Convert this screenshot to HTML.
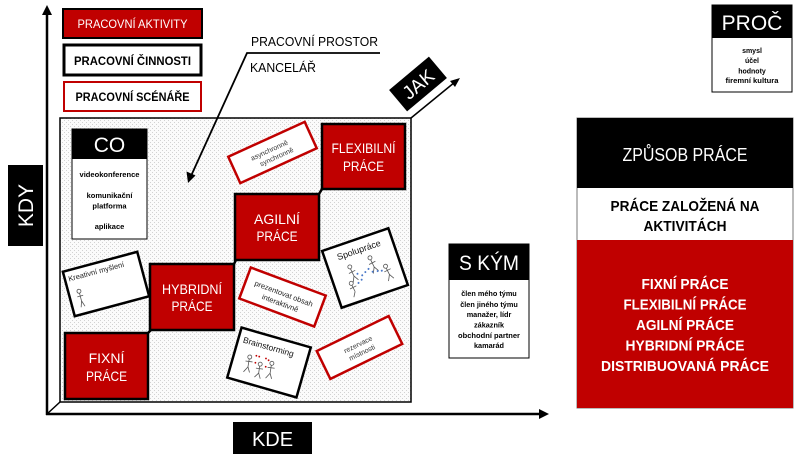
<!DOCTYPE html>
<html>
<head>
<meta charset="utf-8">
<style>
  html,body{margin:0;padding:0;background:#fff;}
  svg{display:block;}
  text{font-family:"Liberation Sans", "DejaVu Sans", sans-serif;}
</style>
</head>
<body>
<svg width="800" height="457" viewBox="0 0 800 457" xmlns="http://www.w3.org/2000/svg">
  <defs>
    <pattern id="dots" width="4" height="4" patternUnits="userSpaceOnUse">
      <rect width="4" height="4" fill="#fbfbfb"/>
      <rect x="0" y="0" width="1" height="1" fill="#d2d2d2"/>
      <rect x="2" y="2" width="1" height="1" fill="#d2d2d2"/>
    </pattern>
  </defs>

  <!-- Stippled work area -->
  <rect x="60" y="118" width="351" height="284" fill="url(#dots)" stroke="#000" stroke-width="1.5"/>
  <!-- 3D corner lines -->
  <line x1="47" y1="414" x2="60" y2="402" stroke="#000" stroke-width="1.5"/>
  <line x1="411" y1="118" x2="455" y2="82" stroke="#000" stroke-width="1.5"/>
  <polygon points="460,78 450,81 455,87" fill="#000"/>

  <!-- Axes -->
  <line x1="47" y1="415" x2="47" y2="13" stroke="#000" stroke-width="2.5"/>
  <polygon points="47,5 42,15 52,15" fill="#000"/>
  <line x1="46" y1="414" x2="541" y2="414" stroke="#000" stroke-width="2.5"/>
  <polygon points="549,414 539,409 539,419" fill="#000"/>

  <!-- KDY -->
  <rect x="8" y="165" width="35" height="81" fill="#000"/>
  <text x="0" y="0" transform="translate(33,205.5) rotate(-90)" text-anchor="middle" fill="#fff" font-size="21">KDY</text>

  <!-- KDE -->
  <rect x="233" y="422" width="79" height="32" fill="#000"/>
  <text x="272.5" y="446" text-anchor="middle" fill="#fff" font-size="20">KDE</text>

  <!-- JAK -->
  <g transform="translate(418,84) rotate(-40)">
    <rect x="-26" y="-14" width="52" height="28" fill="#000"/>
    <text x="0" y="7" text-anchor="middle" fill="#fff" font-size="19">JAK</text>
  </g>

  <!-- Legend -->
  <rect x="63" y="9" width="139" height="29" fill="#c00000" stroke="#000" stroke-width="2"/>
  <text x="132.5" y="28" text-anchor="middle" fill="#fff" font-size="11.5" textLength="110" lengthAdjust="spacingAndGlyphs">PRACOVNÍ AKTIVITY</text>
  <rect x="64" y="45" width="137" height="30" fill="#fff" stroke="#000" stroke-width="3"/>
  <text x="132.5" y="65" text-anchor="middle" fill="#000" font-size="12" font-weight="bold" textLength="117" lengthAdjust="spacingAndGlyphs">PRACOVNÍ ČINNOSTI</text>
  <rect x="64" y="82" width="137" height="29" fill="#fff" stroke="#c00000" stroke-width="2"/>
  <text x="132.5" y="101" text-anchor="middle" fill="#000" font-size="12" font-weight="bold" textLength="114" lengthAdjust="spacingAndGlyphs">PRACOVNÍ SCÉNÁŘE</text>

  <!-- Pracovní prostor -->
  <text x="251" y="46" fill="#000" font-size="13" textLength="127" lengthAdjust="spacingAndGlyphs">PRACOVNÍ PROSTOR</text>
  <text x="250" y="72" fill="#000" font-size="13" textLength="66" lengthAdjust="spacingAndGlyphs">KANCELÁŘ</text>
  <polyline points="380,53 247,53 191,176" fill="none" stroke="#000" stroke-width="1.8"/>
  <polygon points="188,183 186.5,171.5 195.5,175.5" fill="#000"/>

  <!-- CO -->
  <rect x="72" y="129" width="75" height="110" fill="#fff" stroke="#000" stroke-width="1"/>
  <rect x="72" y="129" width="75" height="30" fill="#000"/>
  <text x="109.5" y="152" text-anchor="middle" fill="#fff" font-size="21">CO</text>
  <g font-size="7.5" font-weight="bold" fill="#000" text-anchor="middle">
    <text x="109.5" y="177" textLength="60" lengthAdjust="spacingAndGlyphs">videokonference</text>
    <text x="109.5" y="198">komunikační</text>
    <text x="109.5" y="208.5">platforma</text>
    <text x="109.5" y="229">aplikace</text>
  </g>

  <!-- Red work boxes -->
  <g stroke="#000" stroke-width="2.5">
    <line x1="148" y1="333" x2="151" y2="330"/>
    <line x1="234" y1="264" x2="236" y2="260"/>
    <line x1="319" y1="194" x2="322" y2="189"/>
  </g>
  <rect x="65" y="333" width="83" height="66" fill="#c00000" stroke="#000" stroke-width="2.5"/>
  <rect x="150" y="264" width="84" height="66" fill="#c00000" stroke="#000" stroke-width="2.5"/>
  <rect x="235" y="194" width="84" height="66" fill="#c00000" stroke="#000" stroke-width="2.5"/>
  <rect x="322" y="124" width="83" height="65" fill="#c00000" stroke="#000" stroke-width="2.5"/>
  <g fill="#fff" font-size="14" text-anchor="middle">
    <text x="106.5" y="363">FIXNÍ</text>
    <text x="106.5" y="381" textLength="41" lengthAdjust="spacingAndGlyphs">PRÁCE</text>
    <text x="192" y="294" textLength="60" lengthAdjust="spacingAndGlyphs">HYBRIDNÍ</text>
    <text x="192" y="311" textLength="41" lengthAdjust="spacingAndGlyphs">PRÁCE</text>
    <text x="277" y="224">AGILNÍ</text>
    <text x="277" y="241" textLength="41" lengthAdjust="spacingAndGlyphs">PRÁCE</text>
    <text x="363.5" y="153" textLength="64" lengthAdjust="spacingAndGlyphs">FLEXIBILNÍ</text>
    <text x="363.5" y="171" textLength="41" lengthAdjust="spacingAndGlyphs">PRÁCE</text>
  </g>

  <!-- Kreativní myšlení card -->
  <g transform="translate(106,284) rotate(-15)">
    <rect x="-38.5" y="-23" width="77" height="46" fill="#fff" stroke="#000" stroke-width="2.5"/>
    <text x="-35" y="-12" font-size="7.5" fill="#222">Kreativní myšlení</text>
    <g stroke="#555" stroke-width="0.8" fill="none">
      <circle cx="-28" cy="0" r="2"/>
      <line x1="-28" y1="2" x2="-28" y2="10"/>
      <line x1="-31" y1="5" x2="-25" y2="5"/>
      <line x1="-28" y1="10" x2="-30" y2="16"/>
      <line x1="-28" y1="10" x2="-26" y2="16"/>
    </g>
  </g>

  <!-- asynchronně card -->
  <g transform="translate(272.5,152.5) rotate(-24.5)">
    <rect x="-42" y="-14.5" width="84" height="29" fill="#fff" stroke="#c00000" stroke-width="2.5"/>
    <text x="-2" y="-1" text-anchor="middle" font-size="7" fill="#333">asynchronně</text>
    <text x="2" y="8" text-anchor="middle" font-size="7" fill="#333">synchronně</text>
  </g>

  <!-- prezentovat card -->
  <g transform="translate(282.5,297) rotate(20.5)">
    <rect x="-40" y="-16.5" width="80" height="33" fill="#fff" stroke="#c00000" stroke-width="2.5"/>
    <text x="0" y="-1" text-anchor="middle" font-size="7.5" fill="#222">prezentovat obsah</text>
    <text x="0" y="9" text-anchor="middle" font-size="7.5" fill="#222">interaktivně</text>
  </g>

  <!-- Spolupráce card -->
  <g transform="translate(365,268) rotate(-19)">
    <rect x="-35" y="-30" width="70" height="60" fill="#fff" stroke="#000" stroke-width="2.5"/>
    <text x="0" y="-16" text-anchor="middle" font-size="9" fill="#111">Spolupráce</text>
    <g stroke="#555" stroke-width="0.8" fill="none">
      <circle cx="-14" cy="-6" r="2"/><path d="M-14,-4 L-13,4 M-17,0 L-10,-1 M-13,4 L-16,10 M-13,4 L-10,9"/>
      <circle cx="8" cy="-8" r="2"/><path d="M8,-6 L9,2 M5,-2 L12,-3 M9,2 L6,8 M9,2 L12,7"/>
      <circle cx="-18" cy="10" r="2"/><path d="M-18,12 L-17,19 M-21,15 L-14,14 M-17,19 L-20,24"/>
      <circle cx="20" cy="5" r="2"/><path d="M20,7 L21,14 M17,10 L24,9 M21,14 L18,20 M21,14 L24,19"/>
    </g>
    <g fill="#4a78c8">
      <circle cx="-9" cy="3" r="1"/><circle cx="-5" cy="6" r="1"/><circle cx="-1" cy="4" r="1"/>
      <circle cx="3" cy="2" r="1"/><circle cx="6" cy="6" r="1"/><circle cx="11" cy="7" r="1"/>
      <circle cx="-11" cy="12" r="1"/><circle cx="-7" cy="10" r="1"/><circle cx="15" cy="8" r="1"/>
    </g>
  </g>

  <!-- Brainstorming card -->
  <g transform="translate(269,362.5) rotate(16)">
    <rect x="-36" y="-26" width="72" height="52" fill="#fff" stroke="#000" stroke-width="2.5"/>
    <text x="-31" y="-12" font-size="8.5" fill="#111">Brainstorming</text>
    <g stroke="#555" stroke-width="0.8" fill="none">
      <circle cx="-20" cy="0" r="2"/><path d="M-20,2 L-19,10 M-23,5 L-16,4 M-19,10 L-22,16 M-19,10 L-16,15"/>
      <circle cx="-8" cy="4" r="2"/><path d="M-8,6 L-7,13 M-11,9 L-4,8 M-7,13 L-10,18 M-7,13 L-4,18"/>
      <circle cx="3" cy="0" r="2"/><path d="M3,2 L4,10 M0,5 L7,4 M4,10 L1,16 M4,10 L7,15"/>
    </g>
    <g fill="#c00000">
      <circle cx="-14" cy="-3" r="0.9"/><circle cx="-11" cy="-3" r="0.9"/><circle cx="-4" cy="-3" r="0.9"/>
      <circle cx="-1" cy="-2" r="0.9"/><circle cx="-13" cy="4" r="0.9"/><circle cx="-2" cy="5" r="0.9"/>
    </g>
  </g>

  <!-- rezervace card -->
  <g transform="translate(359.5,347.5) rotate(-26)">
    <rect x="-40" y="-15.5" width="80" height="31" fill="#fff" stroke="#c00000" stroke-width="2.5"/>
    <text x="0" y="-1" text-anchor="middle" font-size="7" fill="#333">rezervace</text>
    <text x="0" y="8" text-anchor="middle" font-size="7" fill="#333">místnosti</text>
  </g>

  <!-- PROČ -->
  <rect x="712" y="5" width="80" height="87" fill="#fff" stroke="#000" stroke-width="1"/>
  <rect x="712" y="5" width="80" height="33" fill="#000"/>
  <text x="752" y="30" text-anchor="middle" fill="#fff" font-size="21">PROČ</text>
  <g font-size="7" font-weight="bold" fill="#000" text-anchor="middle">
    <text x="752" y="53">smysl</text>
    <text x="752" y="63">účel</text>
    <text x="752" y="73.5">hodnoty</text>
    <text x="752" y="83" textLength="53" lengthAdjust="spacingAndGlyphs">firemní kultura</text>
  </g>

  <!-- S KÝM -->
  <rect x="449" y="244" width="80" height="114" fill="#fff" stroke="#000" stroke-width="1"/>
  <rect x="449" y="244" width="80" height="36" fill="#000"/>
  <text x="489" y="270" text-anchor="middle" fill="#fff" font-size="21" textLength="60" lengthAdjust="spacingAndGlyphs">S KÝM</text>
  <g font-size="7.3" font-weight="bold" fill="#000" text-anchor="middle">
    <text x="489" y="296">člen mého týmu</text>
    <text x="489" y="307">člen jiného týmu</text>
    <text x="489" y="317">manažer, lídr</text>
    <text x="489" y="327.5">zákazník</text>
    <text x="489" y="338" textLength="62" lengthAdjust="spacingAndGlyphs">obchodní partner</text>
    <text x="489" y="348">kamarád</text>
  </g>

  <!-- ZPŮSOB PRÁCE -->
  <rect x="577" y="118" width="216" height="290" fill="#fff" stroke="#777" stroke-width="1"/>
  <rect x="577" y="118" width="216" height="70" fill="#000"/>
  <rect x="577" y="240" width="216" height="168" fill="#c00000"/>
  <text x="685" y="161" text-anchor="middle" fill="#fff" font-size="18" textLength="125" lengthAdjust="spacingAndGlyphs">ZPŮSOB PRÁCE</text>
  <text x="685" y="211" text-anchor="middle" fill="#000" font-size="15" font-weight="bold" textLength="149" lengthAdjust="spacingAndGlyphs">PRÁCE ZALOŽENÁ NA</text>
  <text x="685" y="231" text-anchor="middle" fill="#000" font-size="15" font-weight="bold" textLength="83" lengthAdjust="spacingAndGlyphs">AKTIVITÁCH</text>
  <g fill="#fff" font-size="15" font-weight="bold" text-anchor="middle">
    <text x="685" y="289" textLength="87" lengthAdjust="spacingAndGlyphs">FIXNÍ PRÁCE</text>
    <text x="685" y="309.5" textLength="123" lengthAdjust="spacingAndGlyphs">FLEXIBILNÍ PRÁCE</text>
    <text x="685" y="330" textLength="98" lengthAdjust="spacingAndGlyphs">AGILNÍ PRÁCE</text>
    <text x="685" y="350.5" textLength="119" lengthAdjust="spacingAndGlyphs">HYBRIDNÍ PRÁCE</text>
    <text x="685" y="371" textLength="168" lengthAdjust="spacingAndGlyphs">DISTRIBUOVANÁ PRÁCE</text>
  </g>
</svg>
</body>
</html>
